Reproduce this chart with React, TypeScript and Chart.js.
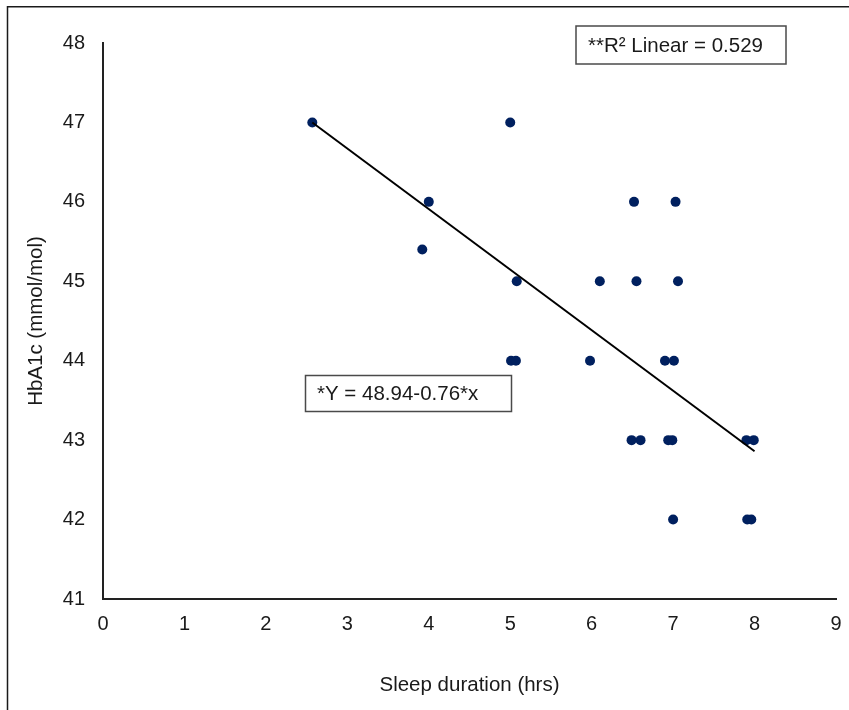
import React, { useEffect, useRef } from "react";
import { Chart, registerables } from "chart.js";

Chart.register(...registerables);

const sleepHours = [2.57, 5.0, 4.0, 3.92, 5.08, 6.1, 6.52, 6.55, 7.03, 7.06, 5.01, 5.07, 5.98, 6.9, 7.01, 6.49, 6.6, 6.94, 6.99, 7.0, 7.9, 7.99, 7.91, 7.96];
const hba1c = [47, 47, 46, 45.4, 45, 45, 46, 45, 46, 45, 44, 44, 44, 44, 44, 43, 43, 43, 43, 42, 43, 43, 42, 42];
const trendX = [2.57, 8.0];
const trendY = [47.0, 42.86];
const xLabel = "Sleep duration (hrs)";
const yLabel = "HbA1c (mmol/mol)";
const r2Text = "**R² Linear = 0.529";
const eqText = "*Y = 48.94-0.76*x";

const FONT = "Arial, 'Liberation Sans', Helvetica, sans-serif";

const annotationPlugin = {
  id: "annot",
  beforeDraw(chart: any) {
    const ctx = chart.ctx;
    ctx.save();
    ctx.fillStyle = "#ffffff";
    ctx.fillRect(0, 0, chart.width, chart.height);
    ctx.strokeStyle = "#1a1a1a";
    ctx.lineWidth = 1.5;
    ctx.beginPath();
    ctx.moveTo(7.5, chart.height);
    ctx.lineTo(7.5, 6.75);
    ctx.lineTo(chart.width, 6.75);
    ctx.stroke();
    ctx.restore();
  },
  afterDraw(chart: any) {
    const ctx = chart.ctx;
    ctx.save();
    const boxes = [
      { text: r2Text, x: 576, y: 26, w: 210, h: 38, tx: 588 },
      { text: eqText, x: 305.5, y: 375.5, w: 206, h: 36, tx: 317 },
    ];
    for (const b of boxes) {
      ctx.fillStyle = "#ffffff";
      ctx.fillRect(b.x, b.y, b.w, b.h);
      ctx.strokeStyle = "#4a4a4a";
      ctx.lineWidth = 1.5;
      ctx.strokeRect(b.x, b.y, b.w, b.h);
      ctx.fillStyle = "#1a1a1a";
      ctx.font = `20.5px ${FONT}`;
      ctx.textBaseline = "middle";
      ctx.textAlign = "left";
      ctx.fillText(b.text, b.tx, b.y + b.h / 2 + 1);
    }
    ctx.restore();
  },
};

export default function App() {
  const canvasRef = useRef<HTMLCanvasElement | null>(null);

  useEffect(() => {
    if (!canvasRef.current) return;
    const scatterData = sleepHours.map((x, i) => ({ x, y: hba1c[i] }));
    const trendData = trendX.map((x, i) => ({ x, y: trendY[i] }));
    const chart = new Chart(canvasRef.current, {
      type: "scatter",
      data: {
        datasets: [
          {
            type: "line",
            data: trendData,
            borderColor: "#000000",
            borderWidth: 2,
            pointRadius: 0,
            showLine: true,
            fill: false,
          } as any,
          {
            data: scatterData,
            backgroundColor: "#00205f",
            borderColor: "#00205f",
            pointRadius: 5,
            borderWidth: 0,
          },
        ],
      },
      options: {
        animation: false,
        responsive: true,
        maintainAspectRatio: false,
        layout: { padding: { left: 0, right: 13, top: 43, bottom: 0 } },
        plugins: { legend: { display: false }, tooltip: { enabled: false } },
        scales: {
          x: {
            type: "linear",
            min: 0,
            max: 9,
            ticks: { stepSize: 1, padding: 13, color: "#1a1a1a", font: { family: FONT, size: 20 } },
            grid: { display: false, drawTicks: false },
            border: { display: true, color: "#222222", width: 2 },
            title: { display: true, text: xLabel, color: "#1a1a1a", font: { family: FONT, size: 20.5 }, padding: 12 },
            afterFit: (s: any) => { s.height = 111; s.paddingRight = 0; s.paddingLeft = 0; },
          },
          y: {
            type: "linear",
            min: 41,
            max: 48,
            ticks: { stepSize: 1, padding: 18, color: "#1a1a1a", font: { family: FONT, size: 20 } },
            grid: { display: false, drawTicks: false },
            border: { display: true, color: "#222222", width: 2 },
            title: { display: true, text: yLabel, color: "#1a1a1a", font: { family: FONT, size: 20.5 }, padding: 24 },
            afterFit: (s: any) => { s.width = 103; s.paddingTop = 0; s.paddingBottom = 0; },
          },
        },
      },
      plugins: [annotationPlugin],
    });
    return () => chart.destroy();
  }, []);

  return (
    <div style={{ position: "absolute", left: 0, top: 0, width: 849, height: 710 }}>
      <canvas ref={canvasRef} />
    </div>
  );
}
